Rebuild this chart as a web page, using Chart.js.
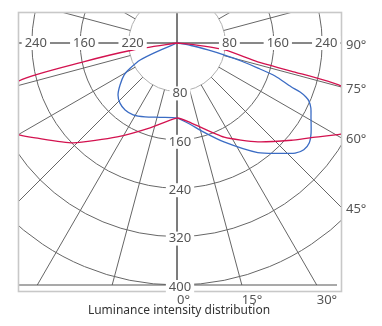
<!DOCTYPE html>
<html>
<head>
<meta charset="utf-8">
<script src="https://cdn.jsdelivr.net/npm/chart.js@4.4.1/dist/chart.umd.min.js"></script>
<style>
  body { margin: 0; background: #fff; }
  canvas { display: block; }
</style>
</head>
<body>
<canvas id="polarChart" width="382" height="326"></canvas>
<script>
// Rings (cd) and angle ticks (degrees from nadir)
const ringValues = [80, 160, 240, 320, 400];
const leftRingLabels = ['220', '160', '240'];   // rings 80, 160, 240 on the left side
const rightRingLabels = ['80', '160', '240'];
const sideAngleTicks = [90, 75, 60, 45];
const bottomAngleTicks = [0, 15, 30];
const gridAngles = [-120, -105, -75, -60, -45, -30, -15, 15, 30, 45, 60, 75, 105, 120];

// Red curve (angle in degrees, value in cd)
const redAngles = [-90, -81, -78.6, -76.5, -70, -65, -59.8, -56.2, -46.1, -32.5, -17.6, 0,
  9.9, 26.6, 39.3, 49.6, 54.5, 60.9, 65, 70, 75.3, 76.2, 76.8, 81.7, 84.7, 90];
const redValues = [0, 74, 158, 269, 335, 330, 302, 282, 238, 184, 147, 124,
  134, 174, 211, 248, 270, 310, 335, 335, 280, 194, 137, 80, 23, 0];

// Blue curve
const blueAngles = [-90, -66.8, -65.3, -61.7, -58.9, -53.6, -48.6, -43.5, -37.8, -31.4, -23.4, -12.9, 0,
  9.7, 14.8, 25.4, 36.4, 44.1, 47.0, 49.9, 52.9, 56.1, 61.1, 64.1, 66.3, 67.3, 68.3, 69.0,
  71.4, 72.8, 74.3, 75.7, 77.3, 79.9, 90];
const blueValues = [0, 38, 67, 88, 102, 117, 130, 137, 140, 139, 133, 126, 124,
  137, 149, 181, 225, 254, 267, 274, 274, 267, 253, 246, 238, 231, 219, 202,
  171, 140, 110, 80, 52.5, 23.5, 0];

const chartTitle = 'Luminance intensity distribution';

const rad = d => d * Math.PI / 180;
const toPoints = (angles, values) =>
  angles.map((a, i) => ({ x: values[i] * Math.sin(rad(a)), y: values[i] * Math.cos(rad(a)) }));

const FONT = '"Noto Sans", "Open Sans", sans-serif';
const TEXT = '#555';

function drawLabel(ctx, text, x, y, align, bg, color) {
  ctx.textAlign = align;
  ctx.textBaseline = 'middle';
  if (bg) {
    const w = ctx.measureText(text).width;
    const left = align === 'center' ? x - w / 2 : x;
    ctx.fillStyle = '#fff';
    ctx.fillRect(left - 3, y - 7, w + 6, 14);
  }
  ctx.fillStyle = color || TEXT;
  ctx.fillText(text, x, y);
}

const polarGrid = {
  id: 'polarGrid',
  beforeDatasetsDraw(chart) {
    const { ctx, chartArea: a, scales: { x, y } } = chart;
    const cx = x.getPixelForValue(0);
    const cy = y.getPixelForValue(0);
    const rpx = v => x.getPixelForValue(v) - cx;

    ctx.save();
    ctx.beginPath();
    ctx.rect(a.left, a.top, a.right - a.left, a.bottom - a.top);
    ctx.clip();

    // rings
    ringValues.forEach(r => {
      ctx.beginPath();
      ctx.arc(cx, cy, rpx(r), 0, Math.PI * 2);
      ctx.strokeStyle = r === ringValues[0] ? '#b0b0b0' : '#666';
      ctx.lineWidth = 1;
      ctx.stroke();
    });

    // radial lines from the first ring outward
    const r0 = rpx(ringValues[0]);
    ctx.strokeStyle = '#666';
    ctx.lineWidth = 1;
    gridAngles.forEach(g => {
      const s = Math.sin(rad(g)), c = Math.cos(rad(g));
      ctx.beginPath();
      ctx.moveTo(cx + r0 * s, cy + r0 * c);
      ctx.lineTo(cx + 1000 * s, cy + 1000 * c);
      ctx.stroke();
    });

    // vertical axis
    ctx.strokeStyle = '#444';
    ctx.lineWidth = 1.4;
    ctx.beginPath();
    ctx.moveTo(cx, a.top);
    ctx.lineTo(cx, a.bottom);
    ctx.stroke();

    // horizontal (90 deg) line
    ctx.strokeStyle = '#111';
    ctx.lineWidth = 1;
    ctx.beginPath();
    ctx.moveTo(a.left, cy);
    ctx.lineTo(a.right, cy);
    ctx.stroke();
    ctx.restore();

    // bottom line
    ctx.strokeStyle = '#555';
    ctx.lineWidth = 1.2;
    ctx.beginPath();
    ctx.moveTo(a.left, a.bottom);
    ctx.lineTo(a.right - 4, a.bottom);
    ctx.stroke();

    // frame
    ctx.strokeStyle = '#c8c8c8';
    ctx.lineWidth = 1.6;
    ctx.strokeRect(a.left - 0.5, a.top - 0.5, a.right - a.left + 1, a.bottom - a.top + 7);
  },
  afterDatasetsDraw(chart) {
    const { ctx, chartArea: a, scales: { x, y } } = chart;
    const cx = x.getPixelForValue(0);
    const cy = y.getPixelForValue(0);
    const rpx = v => x.getPixelForValue(v) - cx;

    ctx.save();
    ctx.font = '13px ' + FONT;
    // ring labels on the horizontal line
    [80, 160, 240].forEach((r, i) => {
      drawLabel(ctx, leftRingLabels[i], cx - rpx(r) + 4, cy, 'center', true);
      drawLabel(ctx, rightRingLabels[i], cx + rpx(r) + 4, cy, 'center', true);
    });
    // ring labels on the vertical axis
    ringValues.forEach(r => {
      drawLabel(ctx, String(r), cx + 3, y.getPixelForValue(r) + 2, 'center', true);
    });
    // angle labels on the right edge
    sideAngleTicks.forEach(g => {
      const hy = cy + (a.right - cx) / Math.tan(rad(g));
      drawLabel(ctx, g + '°', a.right + 5, hy + 2, 'left', false);
    });
    // angle labels under the bottom
    bottomAngleTicks.forEach(g => {
      const hx = cx + (a.bottom - cy) * Math.tan(rad(g));
      drawLabel(ctx, g + '°', hx, 300, 'left', false);
    });
    // title
    ctx.font = '12px ' + FONT;
    drawLabel(ctx, chartTitle, 179, 311, 'center', false, '#333');
    ctx.restore();
  }
};

const ctx = document.getElementById('polarChart').getContext('2d');

new Chart(ctx, {
  type: 'scatter',
  data: {
    datasets: [
      {
        label: 'red',
        data: toPoints(redAngles, redValues),
        showLine: true,
        borderColor: '#d3124f',
        borderWidth: 1.3,
        pointRadius: 0,
        tension: 0.2
      },
      {
        label: 'blue',
        data: toPoints(blueAngles, blueValues),
        showLine: true,
        borderColor: '#3b6cc4',
        borderWidth: 1.3,
        pointRadius: 0,
        tension: 0.25
      }
    ]
  },
  options: {
    responsive: false,
    animation: false,
    devicePixelRatio: 1,
    layout: { padding: { left: 19, top: 13, right: 41, bottom: 41 } },
    scales: {
      x: { type: 'linear', display: false, min: -261.2, max: 271.1 },
      y: { type: 'linear', display: false, min: -49.6, max: 400, reverse: true }
    },
    plugins: {
      legend: { display: false },
      tooltip: { enabled: false }
    }
  },
  plugins: [polarGrid]
});
</script>
</body>
</html>
